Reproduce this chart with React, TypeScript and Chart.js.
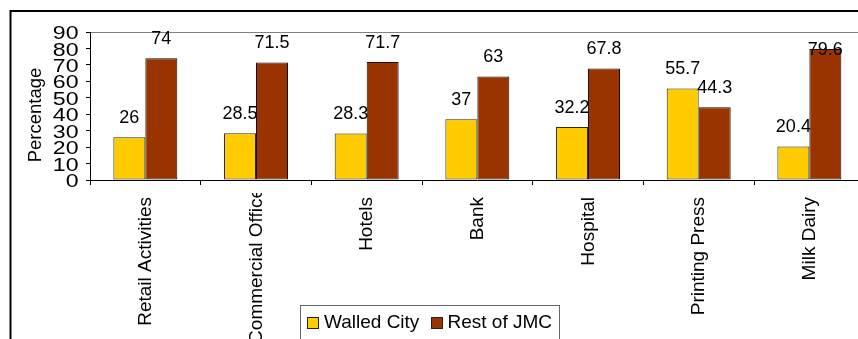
import React, { useEffect, useRef } from 'react';
import { Chart, registerables } from 'chart.js';

Chart.register(...registerables);

const categories = ['Retail Activities', 'Commercial Office', 'Hotels', 'Bank', 'Hospital', 'Printing Press', 'Milk Dairy'];
const walledCity = [26, 28.5, 28.3, 37, 32.2, 55.7, 20.4];
const restOfJMC = [74, 71.5, 71.7, 63, 67.8, 44.3, 79.6];
const seriesNames = ['Walled City', 'Rest of JMC'];
const seriesColors = ['#FFCC00', '#993300'];
const yMin = 0;
const yMax = 90;
const yStep = 10;
const yTitle = 'Percentage';

const CANVAS_W = 900;
const CANVAS_H = 339;
const FONT = '"Liberation Sans", Arial, sans-serif';

const customDraw = {
  id: 'customDraw',
  beforeDraw(chart: any) {
    const ctx = chart.ctx;
    ctx.save();
    ctx.fillStyle = '#ffffff';
    ctx.fillRect(0, 0, chart.width, chart.height);
    ctx.strokeStyle = '#000000';
    ctx.lineWidth = 2;
    ctx.strokeRect(10.5, 11, 3000, 3000);
    const a = chart.chartArea;
    ctx.strokeStyle = '#808080';
    ctx.lineWidth = 1;
    ctx.beginPath();
    ctx.moveTo(a.left, Math.round(a.top) + 0.5);
    ctx.lineTo(chart.width, Math.round(a.top) + 0.5);
    ctx.stroke();
    ctx.restore();
  },
  afterDraw(chart: any) {
    const ctx = chart.ctx;
    const a = chart.chartArea;
    const ys = chart.scales.y;
    const xs = chart.scales.x;
    ctx.save();
    ctx.fillStyle = '#000000';

    // y tick labels (slightly widened like the original)
    ctx.font = `18.5px ${FONT}`;
    ctx.textAlign = 'right';
    ctx.textBaseline = 'middle';
    ys.ticks.forEach((t: any) => {
      const y = ys.getPixelForValue(t.value);
      ctx.save();
      ctx.translate(78.5, y + 2);
      ctx.scale(1.25, 1);
      ctx.fillText(String(t.value), 0, 0);
      ctx.restore();
    });

    // y title
    ctx.save();
    ctx.font = `18.5px ${FONT}`;
    ctx.translate(41, 115);
    ctx.rotate(-Math.PI / 2);
    ctx.textAlign = 'center';
    ctx.textBaseline = 'alphabetic';
    ctx.fillText(yTitle, 0, 0);
    ctx.restore();

    // category labels (rotated, top aligned)
    ctx.font = `19px ${FONT}`;
    categories.forEach((lab, i) => {
      const x = xs.getPixelForValue(i) + 5.5;
      const long = ctx.measureText(lab).width > 145;
      ctx.save();
      if (long) {
        ctx.beginPath();
        ctx.rect(x - 30, 193, 60, 200);
        ctx.clip();
      }
      ctx.translate(x, long ? 188 : 197);
      ctx.rotate(-Math.PI / 2);
      ctx.textAlign = 'right';
      ctx.textBaseline = 'alphabetic';
      ctx.fillText(lab, 0, 0);
      ctx.restore();
    });

    // data labels
    ctx.font = `18px ${FONT}`;
    ctx.textAlign = 'center';
    ctx.textBaseline = 'alphabetic';
    chart.data.datasets.forEach((ds: any, di: number) => {
      const meta = chart.getDatasetMeta(di);
      meta.data.forEach((bar: any, i: number) => {
        let base = bar.y - 14.3;
        if (base - 12.5 < a.top - 3) base = bar.y + 6;
        ctx.fillText(String(ds.data[i]), bar.x, base);
      });
    });

    // legend
    const lx = 300.5;
    const ly = 305.5;
    ctx.strokeStyle = '#666666';
    ctx.lineWidth = 1;
    ctx.strokeRect(lx, ly, 259, 60);
    ctx.font = `19px ${FONT}`;
    ctx.textAlign = 'left';
    ctx.textBaseline = 'alphabetic';
    const items = [
      { sx: 307.5, tx: 324 },
      { sx: 431.5, tx: 447.5 },
    ];
    items.forEach((it, i) => {
      ctx.fillStyle = seriesColors[i];
      ctx.fillRect(it.sx, 317.5, 11, 11);
      ctx.strokeStyle = '#222222';
      ctx.strokeRect(it.sx, 317.5, 11, 11);
      ctx.fillStyle = '#000000';
      ctx.fillText(seriesNames[i], it.tx, 328);
    });
    ctx.restore();
  },
};

export default function App() {
  const canvasRef = useRef<HTMLCanvasElement | null>(null);

  useEffect(() => {
    const canvas = canvasRef.current;
    if (!canvas) return;
    const chart = new Chart(canvas, {
      type: 'bar',
      data: {
        labels: categories,
        datasets: [
          {
            label: seriesNames[0],
            data: walledCity,
            backgroundColor: seriesColors[0],
            borderColor: '#2a2a10',
            borderWidth: 1,
            borderSkipped: false,
            categoryPercentage: 0.578,
            barPercentage: 1,
          },
          {
            label: seriesNames[1],
            data: restOfJMC,
            backgroundColor: seriesColors[1],
            borderColor: '#1a0a00',
            borderWidth: 1,
            borderSkipped: false,
            categoryPercentage: 0.578,
            barPercentage: 1,
          },
        ],
      },
      options: {
        responsive: false,
        animation: false,
        devicePixelRatio: 1,
        layout: { padding: { left: 0, top: 32, right: CANVAS_W - 864.7, bottom: 0 } },
        plugins: {
          legend: { display: false },
          tooltip: { enabled: false },
          title: { display: false },
        },
        scales: {
          x: {
            offset: true,
            grid: {
              display: true,
              drawOnChartArea: false,
              drawTicks: true,
              tickLength: 5,
              color: '#000000',
              offset: true,
            },
            border: { display: true, color: '#000000' },
            ticks: { display: false, autoSkip: false },
            afterFit: (s: any) => {
              s.height = CANVAS_H - 180;
            },
          },
          y: {
            min: yMin,
            max: yMax,
            ticks: { stepSize: yStep, display: false },
            grid: {
              display: true,
              drawOnChartArea: false,
              drawTicks: true,
              tickLength: 4,
              color: '#000000',
            },
            border: { display: true, color: '#000000' },
            afterFit: (s: any) => {
              s.width = 90;
            },
          },
        },
      },
      plugins: [customDraw],
    } as any);
    return () => chart.destroy();
  }, []);

  return (
    <div style={{ position: 'absolute', left: 0, top: 0, width: 858, height: 339, overflow: 'hidden', background: '#fff' }}>
      <canvas ref={canvasRef} width={CANVAS_W} height={CANVAS_H} style={{ display: 'block', width: CANVAS_W, height: CANVAS_H }} />
    </div>
  );
}
